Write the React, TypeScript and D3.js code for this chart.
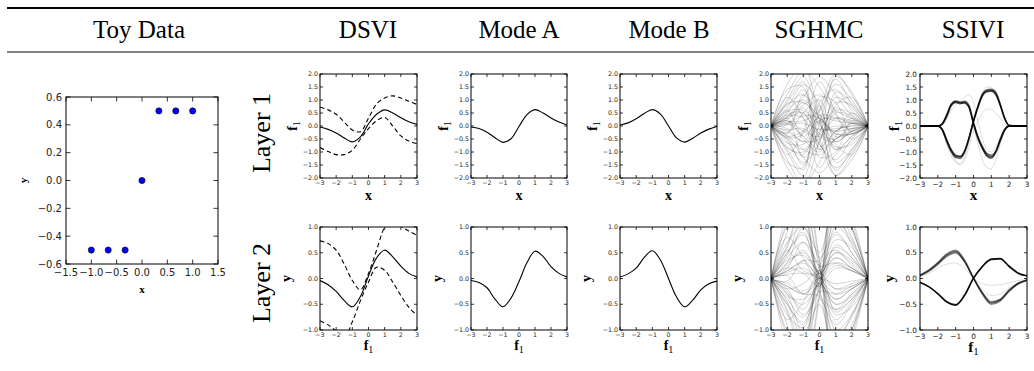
import React from 'react';
import * as d3 from 'd3';

// column headers
const headers = ['Toy Data', 'DSVI', 'Mode A', 'Mode B', 'SGHMC', 'SSIVI'];
const headerX = [139, 368, 519, 669, 819, 973];
const rowNames = ['Layer 1', 'Layer 2'];

// toy data
const toyX = [-1, -0.667, -0.333, 0, 0.333, 0.667, 1];
const toyY = [-0.5, -0.5, -0.5, 0, 0.5, 0.5, 0.5];
const toyXTicks = [-1.5, -1, -0.5, 0, 0.5, 1, 1.5];
const toyYTicks = [-0.6, -0.4, -0.2, 0, 0.2, 0.4, 0.6];

// shared grids
const gridX = [-3, -2.5, -2, -1.5, -1, -0.5, 0, 0.5, 1, 1.5, 2, 2.5, 3];
const knotX = [-3, -2, -1, 0, 1, 2, 3];
const ssiviX = [-3, -2, -1.75, -1.5, -1.25, -1, -0.75, -0.5, -0.25, 0, 0.25, 0.5, 0.75, 1, 1.25, 1.5, 1.75, 2, 3];
const xTicks = [-3, -2, -1, 0, 1, 2, 3];
const l1YTicks = [-2, -1.5, -1, -0.5, 0, 0.5, 1, 1.5, 2];
const l2YTicks = [-1, -0.5, 0, 0.5, 1];

// DSVI
const dsviL1Mean = [-0.04, -0.13, -0.27, -0.46, -0.61, -0.42, 0.08, 0.45, 0.62, 0.5, 0.32, 0.16, 0.06];
const dsviL1Upper = [0.72, 0.62, 0.45, 0.15, -0.15, -0.22, 0.3, 0.85, 1.08, 1.16, 1.08, 0.95, 0.83];
const dsviL1Lower = [-0.83, -0.98, -1.1, -1.1, -0.93, -0.5, -0.1, 0.2, 0.33, 0.0, -0.38, -0.58, -0.68];
const dsviL2Mean = [-0.04, -0.12, -0.25, -0.43, -0.55, -0.35, 0.05, 0.4, 0.55, 0.42, 0.24, 0.1, 0.03];
const dsviL2Upper = [0.73, 0.68, 0.55, 0.28, -0.04, -0.22, 0.1, 0.55, 1.0, 1.2, 1.02, 0.92, 0.84];
const dsviL2Lower = [-0.82, -0.9, -1.02, -1.15, -0.84, -0.43, -0.07, 0.22, 0.16, -0.07, -0.33, -0.56, -0.72];

// Mode A / Mode B
const modeAL1 = [-0.04, -0.1, -0.24, -0.45, -0.63, -0.49, -0.02, 0.44, 0.63, 0.5, 0.31, 0.15, 0.04];
const modeBL1 = [0.04, 0.12, 0.28, 0.48, 0.63, 0.46, 0.0, -0.46, -0.62, -0.47, -0.27, -0.12, -0.02];
const modeAL2 = [-0.04, -0.08, -0.18, -0.4, -0.55, -0.38, -0.06, 0.31, 0.53, 0.43, 0.23, 0.1, 0.03];
const modeBL2 = [0.03, 0.09, 0.2, 0.41, 0.54, 0.36, 0.0, -0.36, -0.55, -0.42, -0.22, -0.1, -0.05];

// SGHMC samples, values at knotX
const sghmcL1 = [
  [0.02, 0.7, 1.6, 0.8, -0.9, -0.6, -0.02],
  [-0.02, -0.6, -1.4, -0.6, 1.1, 0.7, 0.03],
  [0.0, 1.0, 1.9, 0.2, -1.7, -0.9, 0.0],
  [0.01, -1.0, -1.9, 0.1, 1.8, 0.8, 0.01],
  [0.0, 0.35, 0.8, 1.2, 0.6, 0.3, 0.0],
  [0.0, -0.35, -0.9, -1.1, -0.5, -0.2, 0.0],
  [0.03, 0.45, 0.5, -0.7, -1.3, -0.5, 0.02],
  [-0.03, -0.45, -0.3, 0.9, 1.4, 0.6, 0.0],
  [0.0, 1.2, 2.1, 1.5, 0.4, 0.1, 0.0],
  [0.0, -1.3, -2.2, -1.4, -0.2, 0.0, 0.0],
  [0.02, 0.2, -0.2, -0.4, 0.5, 0.4, 0.02],
  [-0.02, 0.1, 0.4, 0.3, -0.3, -0.3, -0.01],
  [0.01, 0.8, 1.2, -0.5, -1.9, -1.1, -0.03],
  [-0.01, -0.8, -1.1, 0.6, 2.0, 1.2, 0.04],
  [0.0, 0.55, 0.6, 0.1, 0.9, 0.8, 0.03],
  [0.0, -0.65, -0.7, -0.1, -0.8, -0.7, -0.03],
  [0.02, 1.4, 1.5, -1.2, -1.0, 0.2, 0.0],
  [-0.02, -1.4, -1.6, 1.1, 0.9, -0.3, 0.0],
  [0.0, 0.15, 0.2, 0.6, 1.6, 1.0, 0.02],
  [0.0, -0.15, -0.1, -0.7, -1.6, -1.0, -0.02],
  [0.01, 0.85, 0.9, 0.4, 0.2, 0.1, 0.0],
  [-0.01, -0.85, -1.0, -0.3, 0.0, -0.1, 0.0],
  [0.0, 0.35, 1.1, 1.9, 1.2, 0.4, 0.01],
  [0.0, -0.4, -1.2, -1.8, -1.1, -0.4, -0.01],
  [0.02, -0.1, -0.6, 0.4, 0.3, -0.2, 0.0],
  [-0.02, 0.05, 0.7, -0.3, -0.5, 0.1, 0.0],
  [0.0, 1.1, 0.3, -1.6, -0.4, 0.5, 0.02],
  [0.0, -1.1, -0.2, 1.7, 0.5, -0.5, -0.02],
  [0.01, 0.5, 1.4, 0.0, -0.2, -0.1, 0.0],
  [-0.01, -0.5, -1.5, 0.2, 0.3, 0.15, 0.0],
  [0.0, 0.2, -0.5, -1.0, 0.8, 1.1, 0.03],
  [0.0, -0.25, 0.5, 1.0, -0.7, -1.1, -0.03],
  [0.0, 1.6, 2.3, 0.5, -0.6, -0.2, 0.0],
  [0.0, -1.6, -2.3, -0.6, 0.7, 0.3, 0.0],
  [0.01, 0.05, 0.1, -0.15, -0.1, 0.0, 0.0],
  [-0.01, 0.6, -0.4, 0.2, -0.2, 0.3, 0.01],
  [0.0, 0.9, 1.7, -0.9, 1.3, 0.9, 0.02],
  [0.0, -0.9, -1.7, 0.8, -1.4, -0.9, -0.02],
  [0.0, 0.3, -1.2, -0.3, 1.9, 1.3, 0.03],
  [0.0, -0.3, 1.2, 0.3, -1.9, -1.3, -0.03],
  [0.0, 0.3, 0.5, -0.4, -0.6, -0.2, 0.0],
  [0.0, -0.2, -0.6, -0.5, 0.3, 0.2, 0.0],
  [0.0, 0.4, 0.3, -0.8, -0.2, 0.1, 0.0],
  [0.0, -0.4, -0.2, 0.3, -0.4, -0.3, 0.0],
  [0.0, 0.1, -0.4, -0.9, -0.5, -0.1, 0.0],
  [0.0, 0.25, 0.9, 0.1, -0.9, -0.4, 0.0],
  [0.0, -0.5, -0.9, -0.2, 0.6, 0.5, 0.0],
  [0.0, 0.6, 1.0, 0.3, -0.3, -0.3, 0.0],
];
const sghmcL2 = [
  [0.0, 0.6, 1.4, 0.2, -1.2, -0.7, 0.0],
  [0.0, -0.6, -1.3, -0.1, 1.3, 0.8, 0.0],
  [0.02, 0.9, 1.8, 0.3, -1.6, -1.0, -0.02],
  [-0.02, -0.9, -1.8, -0.3, 1.7, 1.0, 0.02],
  [0.0, 0.25, 0.55, 0.1, 0.5, 0.3, 0.0],
  [0.0, -0.25, -0.6, -0.1, -0.5, -0.3, 0.0],
  [0.01, 0.4, 0.7, 0.0, -0.8, -0.45, 0.0],
  [-0.01, -0.4, -0.75, 0.05, 0.85, 0.5, 0.0],
  [0.0, 1.1, 1.6, 0.4, 0.9, 0.5, 0.0],
  [0.0, -1.1, -1.6, -0.4, -0.9, -0.5, 0.0],
  [0.01, 0.12, 0.2, 0.0, 0.25, 0.15, 0.0],
  [-0.01, -0.1, -0.25, 0.0, -0.2, -0.1, 0.0],
  [0.0, 0.7, 1.0, -0.2, -1.4, -0.9, 0.0],
  [0.0, -0.7, -0.95, 0.2, 1.45, 0.95, 0.0],
  [0.0, 0.35, 0.45, 0.15, 0.75, 0.6, 0.02],
  [0.0, -0.35, -0.4, -0.15, -0.7, -0.55, -0.02],
  [0.02, 1.0, 1.2, -0.3, -0.6, -0.3, 0.0],
  [-0.02, -1.0, -1.25, 0.25, 0.55, 0.25, 0.0],
  [0.0, 0.15, 0.35, 0.35, 1.1, 0.75, 0.0],
  [0.0, -0.15, -0.3, -0.35, -1.15, -0.75, 0.0],
  [0.0, 0.5, 0.85, 0.25, 0.3, 0.15, 0.0],
  [0.0, -0.5, -0.85, -0.25, -0.3, -0.15, 0.0],
  [0.0, 0.3, 1.0, 0.5, 1.6, 1.0, 0.01],
  [0.0, -0.3, -1.05, -0.5, -1.6, -1.0, -0.01],
  [0.01, 0.05, -0.3, 0.05, 0.4, 0.2, 0.0],
  [-0.01, -0.05, 0.35, -0.05, -0.4, -0.2, 0.0],
  [0.0, 0.8, 0.4, -0.1, 0.2, 0.15, 0.0],
  [0.0, -0.8, -0.45, 0.1, -0.2, -0.15, 0.0],
  [0.0, 0.45, 1.2, 0.05, -0.3, -0.2, 0.0],
  [0.0, -0.45, -1.2, -0.05, 0.3, 0.2, 0.0],
  [0.0, 0.2, 0.1, -0.15, 0.65, 0.4, 0.0],
  [0.0, -0.2, -0.1, 0.15, -0.65, -0.4, 0.0],
  [0.0, 1.3, 2.0, 0.35, -1.9, -1.2, 0.0],
  [0.0, -1.3, -2.0, -0.35, 1.9, 1.2, 0.0],
  [0.0, 0.08, 0.1, 0.02, -0.1, -0.05, 0.0],
  [0.0, 0.55, 0.15, 0.1, 1.2, 0.65, 0.0],
  [0.0, 0.65, 1.5, -0.15, 1.0, 0.7, 0.01],
  [0.0, -0.65, -1.5, 0.15, -1.0, -0.7, -0.01],
  [0.0, 0.2, 0.7, 0.2, -1.8, -1.1, 0.0],
  [0.0, -0.2, -0.7, -0.2, 1.8, 1.1, 0.0],
  [0.0, 0.3, 0.5, 0.05, -0.4, -0.2, 0.0],
  [0.0, -0.3, -0.5, -0.05, 0.4, 0.2, 0.0],
  [0.0, 0.5, 0.9, 0.1, 0.5, 0.35, 0.0],
  [0.0, -0.5, -0.9, -0.1, -0.5, -0.35, 0.0],
  [0.0, 0.15, 0.3, 0.0, -0.6, -0.4, 0.0],
  [0.0, -0.15, -0.3, 0.0, 0.6, 0.4, 0.0],
];

// SSIVI samples
const ssiviL1Dark = [
  [0, 0, 0.08, 0.4, 0.82, 0.93, 0.88, 0.92, 0.75, 0.1, -0.45, -0.82, -1.1, -1.17, -0.98, -0.55, -0.15, 0, 0],
  [0, 0, 0.1, 0.45, 0.85, 0.97, 0.92, 0.96, 0.8, 0.15, -0.4, -0.78, -1.05, -1.12, -0.95, -0.5, -0.12, 0, 0],
  [0, 0, 0.06, 0.36, 0.78, 0.9, 0.85, 0.9, 0.7, 0.05, -0.5, -0.88, -1.16, -1.24, -1.02, -0.6, -0.18, -0.01, 0],
  [0, 0, 0.09, 0.42, 0.8, 0.95, 0.9, 0.88, 0.72, 0.12, -0.42, -0.85, -1.13, -1.2, -1.0, -0.52, -0.14, 0, 0],
  [0, 0, -0.15, -0.58, -0.95, -1.17, -1.2, -0.98, -0.45, 0.2, 0.75, 1.2, 1.36, 1.38, 1.25, 0.82, 0.3, 0.02, 0],
  [0, 0, -0.12, -0.52, -0.9, -1.12, -1.16, -0.95, -0.42, 0.22, 0.78, 1.24, 1.4, 1.42, 1.3, 0.86, 0.32, 0.02, 0],
  [0, 0, -0.17, -0.62, -1.0, -1.22, -1.25, -1.02, -0.5, 0.16, 0.7, 1.15, 1.31, 1.33, 1.2, 0.78, 0.27, 0.01, 0],
  [0, 0, -0.14, -0.55, -0.93, -1.15, -1.18, -0.96, -0.48, 0.18, 0.73, 1.18, 1.34, 1.36, 1.22, 0.8, 0.28, 0.02, 0],
];
const ssiviL1Faint = [
  [0, 0, 0.05, 0.3, 0.6, 0.8, 0.95, 1.1, 1.2, 0.9, 0.2, -0.5, -0.9, -1.0, -0.8, -0.45, -0.12, 0, 0],
  [0, 0, -0.1, -0.5, -1.0, -1.35, -1.5, -1.3, -0.8, -0.2, 0.2, 0.5, 0.65, 0.65, 0.5, 0.3, 0.1, 0, 0],
  [0, 0, 0.05, 0.3, 0.7, 0.9, 0.85, 0.9, 0.7, 0.0, -0.7, -1.3, -1.6, -1.65, -1.3, -0.7, -0.2, 0, 0],
  [0, 0, -0.2, -0.7, -1.15, -1.38, -1.45, -1.2, -0.6, 0.1, 0.8, 1.3, 1.5, 1.48, 1.3, 0.85, 0.3, 0.02, 0],
];
const ssiviL2Band = [
  [0.06, 0.15, 0.29, 0.45, 0.53, 0.34, 0.01, -0.29, -0.48, -0.42, -0.23, -0.1, -0.03],
  [0.07, 0.17, 0.31, 0.48, 0.55, 0.36, 0.02, -0.27, -0.45, -0.4, -0.22, -0.09, -0.03],
  [0.05, 0.14, 0.27, 0.43, 0.5, 0.32, 0.0, -0.31, -0.5, -0.44, -0.25, -0.11, -0.04],
  [0.06, 0.16, 0.3, 0.46, 0.52, 0.33, 0.0, -0.28, -0.47, -0.41, -0.24, -0.1, -0.03],
];
const ssiviL2Sharp = [
  [-0.08, -0.16, -0.3, -0.46, -0.52, -0.33, 0.0, 0.23, 0.37, 0.38, 0.23, 0.1, 0.05],
  [-0.07, -0.16, -0.29, -0.45, -0.51, -0.32, 0.01, 0.24, 0.38, 0.39, 0.24, 0.11, 0.05],
];
const ssiviL2Faint = [
  [0.04, 0.1, 0.2, 0.28, 0.3, 0.2, 0.0, -0.1, -0.13, -0.12, -0.08, -0.04, -0.02],
  [0.05, 0.13, 0.27, 0.42, 0.48, 0.32, 0.0, -0.22, -0.33, -0.3, -0.18, -0.08, -0.02],
];

const tickFont = 'DejaVu Sans, sans-serif';
const serif = 'Liberation Serif, serif';
const fmt1 = d3.format('.1f');
const fmtInt = d3.format('d');

type Line = { xs: number[]; ys: number[]; opacity?: number; width?: number; dash?: string; curve?: any };
type Box = { l: number; r: number; t: number; b: number };

const AxisName = ({ kind, x, y, rotate, size }: { kind: string; x: number; y: number; rotate?: boolean; size: number }) => (
  <text
    transform={rotate ? `translate(${x},${y}) rotate(-90)` : `translate(${x},${y})`}
    textAnchor="middle" fontFamily={serif} fontWeight="bold" fontSize={size}>
    {kind === 'f1'
      ? <>f<tspan fontWeight="normal" fontSize={size * 0.72} dy={size * 0.22}>1</tspan></>
      : kind}
  </text>
);

const Panel = (p: {
  id: string; box: Box; xDom: number[]; yDom: number[]; xTicks: number[]; yTicks: number[];
  xFmt: (v: number) => string; yFmt: (v: number) => string; font: number; tick: number;
  lines?: Line[]; points?: { x: number[]; y: number[] };
  xLabel: string; yLabel: string; xLabOff: number; yLabOff: number; labSize: number;
  yLabPad?: number; xLabPad?: number;
}) => {
  const { box } = p;
  const x = d3.scaleLinear().domain(p.xDom).range([box.l, box.r]);
  const y = d3.scaleLinear().domain(p.yDom).range([box.b, box.t]);
  const cy = (box.t + box.b) / 2;
  const cx = (box.l + box.r) / 2;
  return (
    <g>
      <clipPath id={p.id}>
        <rect x={box.l} y={box.t} width={box.r - box.l} height={box.b - box.t} />
      </clipPath>
      <g clipPath={`url(#${p.id})`}>
        {(p.lines || []).map((ln, i) => {
          const gen = d3.line<number>()
            .x((_, j) => x(ln.xs[j]))
            .y(v => y(v))
            .curve(ln.curve || d3.curveCatmullRom.alpha(0.5));
          return (
            <path key={i} d={gen(ln.ys) || ''} fill="none" stroke="#000"
              strokeOpacity={ln.opacity ?? 1} strokeWidth={ln.width ?? 1.1}
              strokeDasharray={ln.dash} />
          );
        })}
      </g>
      {p.points && p.points.x.map((v, i) => (
        <circle key={i} cx={x(v)} cy={y(p.points!.y[i])} r={3.1} fill="#0000ff" stroke="#000" strokeWidth={0.6} />
      ))}
      <rect x={box.l} y={box.t} width={box.r - box.l} height={box.b - box.t} fill="none" stroke="#000" strokeWidth={1} />
      {p.xTicks.map(t => (
        <g key={'x' + t}>
          <line x1={x(t)} x2={x(t)} y1={box.b} y2={box.b - p.tick} stroke="#000" strokeWidth={0.8} />
          <line x1={x(t)} x2={x(t)} y1={box.t} y2={box.t + p.tick} stroke="#000" strokeWidth={0.8} />
          <text x={x(t)} y={box.b + (p.xLabPad ?? p.font + 1)} textAnchor="middle" fontFamily={tickFont} fontSize={p.font} fill="#222">
            {p.xFmt(t)}
          </text>
        </g>
      ))}
      {p.yTicks.map(t => (
        <g key={'y' + t}>
          <line x1={box.l} x2={box.l + p.tick} y1={y(t)} y2={y(t)} stroke="#000" strokeWidth={0.8} />
          <line x1={box.r} x2={box.r - p.tick} y1={y(t)} y2={y(t)} stroke="#000" strokeWidth={0.8} />
          <text x={box.l - (p.yLabPad ?? 2)} y={y(t)} dy="0.35em" textAnchor="end" fontFamily={tickFont} fontSize={p.font} fill="#222">
            {p.yFmt(t)}
          </text>
        </g>
      ))}
      <AxisName kind={p.xLabel} x={cx} y={box.b + p.xLabOff} size={p.labSize} />
      <AxisName kind={p.yLabel} x={box.l - p.yLabOff} y={cy} rotate size={p.labSize} />
    </g>
  );
};

const cols = [
  { l: 320, r: 417 },
  { l: 471, r: 567 },
  { l: 620, r: 717 },
  { l: 771, r: 868 },
  { l: 920, r: 1027 },
];
const rows = [
  { t: 74, b: 178 },
  { t: 227, b: 330 },
];

const mono = d3.curveMonotoneX;

export default function App() {
  const l1Lines: Line[][] = [
    [
      { xs: gridX, ys: dsviL1Mean },
      { xs: gridX, ys: dsviL1Upper, dash: '4.5,3' },
      { xs: gridX, ys: dsviL1Lower, dash: '4.5,3' },
    ],
    [{ xs: gridX, ys: modeAL1 }],
    [{ xs: gridX, ys: modeBL1 }],
    sghmcL1.map(ys => ({ xs: knotX, ys, opacity: 0.17, width: 1 })),
    [
      ...ssiviL1Faint.map(ys => ({ xs: ssiviX, ys, opacity: 0.13, width: 1, curve: mono })),
      ...ssiviL1Dark.map(ys => ({ xs: ssiviX, ys, opacity: 0.6, width: 1.3, curve: mono })),
    ],
  ];
  const l2Lines: Line[][] = [
    [
      { xs: gridX, ys: dsviL2Mean },
      { xs: gridX, ys: dsviL2Upper, dash: '4.5,3' },
      { xs: gridX, ys: dsviL2Lower, dash: '4.5,3' },
    ],
    [{ xs: gridX, ys: modeAL2 }],
    [{ xs: gridX, ys: modeBL2 }],
    sghmcL2.map(ys => ({ xs: knotX, ys, opacity: 0.17, width: 1 })),
    [
      ...ssiviL2Faint.map(ys => ({ xs: gridX, ys, opacity: 0.13, width: 1, curve: mono })),
      ...ssiviL2Band.map(ys => ({ xs: gridX, ys, opacity: 0.45, width: 1.3, curve: mono })),
      ...ssiviL2Sharp.map(ys => ({ xs: gridX, ys, opacity: 0.85, width: 1.4, curve: mono })),
    ],
  ];

  return (
    <svg width={1034} height={371} style={{ position: 'absolute', left: 0, top: 0, background: '#fff' }}>
      <rect width={1034} height={371} fill="#fff" />
      <line x1={7} x2={1034} y1={8} y2={8} stroke="#000" strokeWidth={1.8} />
      <line x1={7} x2={1034} y1={52} y2={52} stroke="#000" strokeWidth={1} />
      {headers.map((h, i) => (
        <text key={h} x={headerX[i]} y={38} textAnchor="middle" fontFamily={serif} fontSize={25}>{h}</text>
      ))}
      {rowNames.map((r, i) => (
        <text key={r} transform={`translate(270,${i === 0 ? 133 : 283}) rotate(-90)`} textAnchor="middle"
          fontFamily={serif} fontSize={26}>{r}</text>
      ))}

      <Panel id="toy" box={{ l: 66, r: 218, t: 97, b: 264 }} xDom={[-1.5, 1.5]} yDom={[-0.6, 0.6]}
        xTicks={toyXTicks} yTicks={toyYTicks} xFmt={fmt1} yFmt={fmt1} font={10} tick={4.5}
        points={{ x: toyX, y: toyY }} xLabel="x" yLabel="y" xLabOff={29} yLabOff={39} labSize={11}
        xLabPad={12} yLabPad={4} />

      {cols.map((c, ci) => rows.map((r, ri) => {
        const ssivi = ci === 4;
        return (
          <Panel key={ci + '-' + ri} id={`p${ci}${ri}`} box={{ l: c.l, r: c.r, t: r.t, b: r.b }}
            xDom={[-3, 3]} yDom={ri === 0 ? [-2, 2] : [-1, 1]}
            xTicks={xTicks} yTicks={ri === 0 ? l1YTicks : l2YTicks}
            xFmt={fmtInt} yFmt={fmt1} font={ssivi ? 7.3 : 6.3} tick={3}
            lines={ri === 0 ? l1Lines[ci] : l2Lines[ci]}
            xLabel={ri === 0 ? 'x' : 'f1'} yLabel={ri === 0 ? 'f1' : 'y'}
            xLabOff={ri === 0 ? 22 : (ssivi ? 22 : 20)} yLabOff={ri === 0 ? (ssivi ? 21 : 23.5) : (ssivi ? 26 : 29)}
            labSize={ssivi ? 15 : 14} xLabPad={ssivi ? 8.5 : 7} yLabPad={ssivi ? 3 : 2} />
        );
      }))}
    </svg>
  );
}
